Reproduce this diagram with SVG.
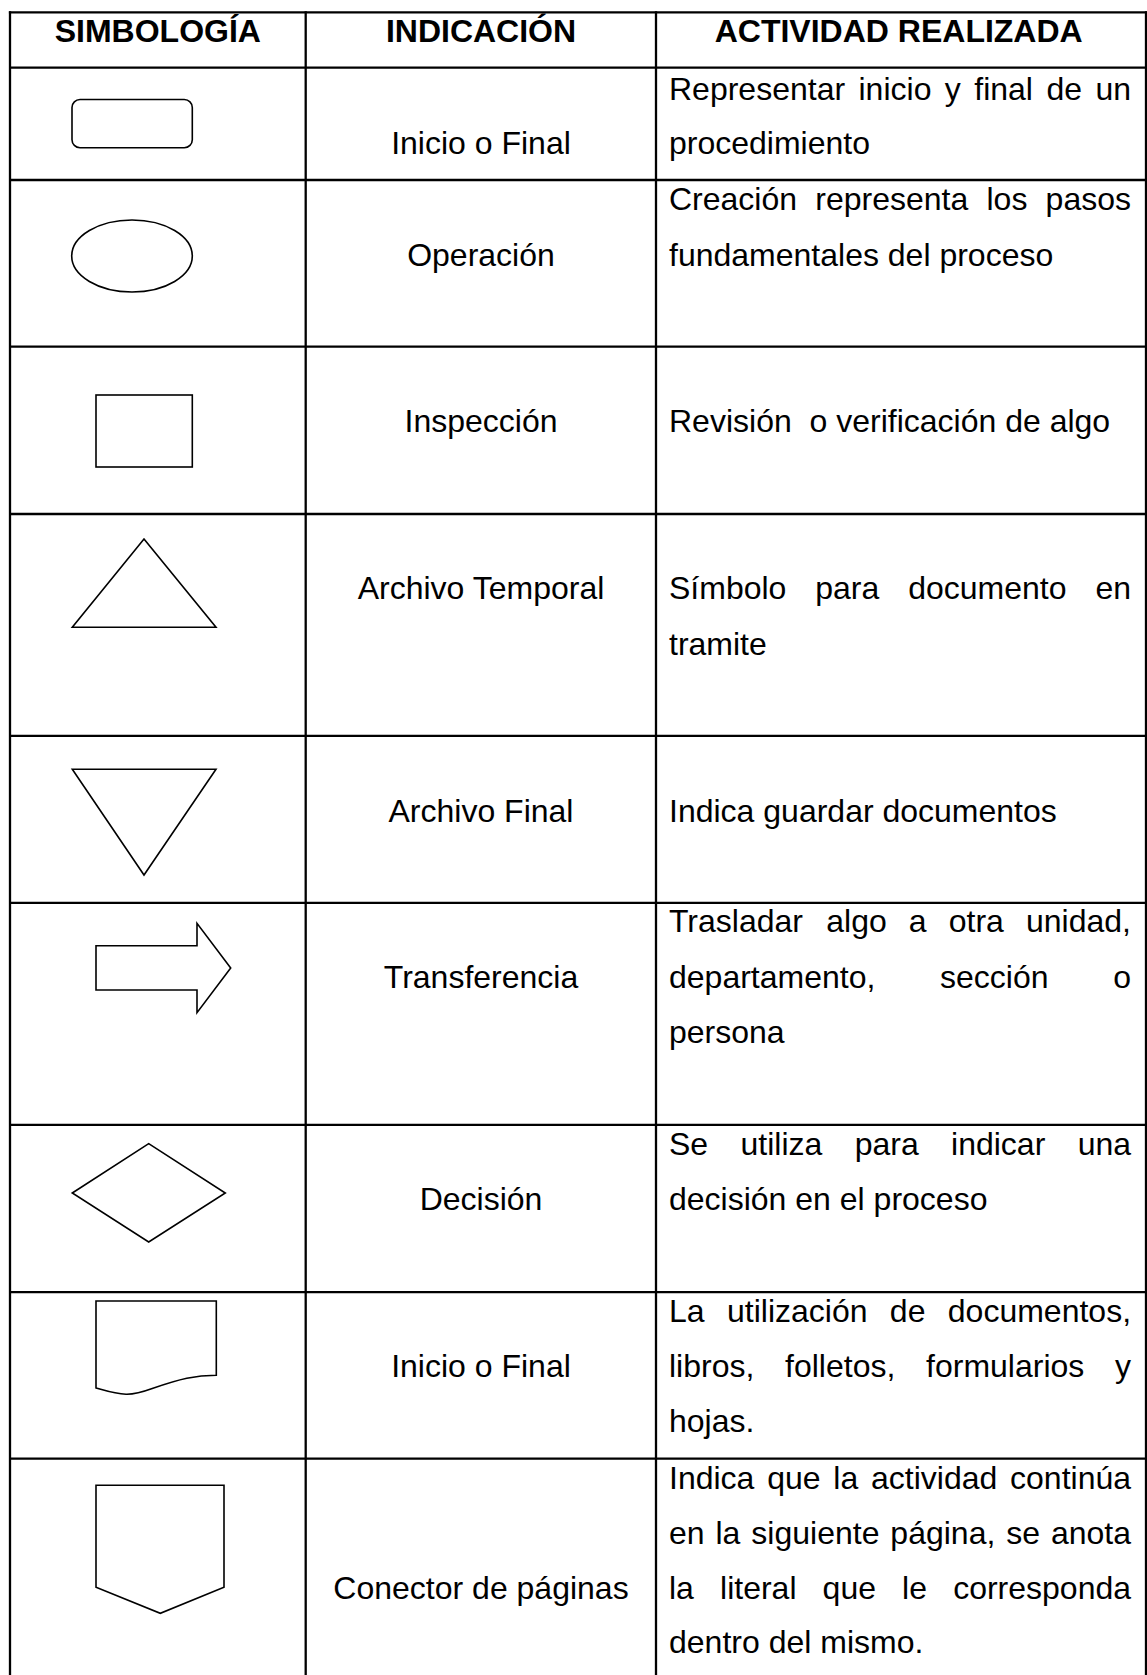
<svg xmlns="http://www.w3.org/2000/svg" width="1147" height="1675" viewBox="0 0 1147 1675">
<style>
text{font-family:"Liberation Sans",Arial,sans-serif;font-size:32px;fill:#000}
.h{font-weight:bold;text-anchor:middle}
.c{text-anchor:middle}
.grid line{stroke:#000;stroke-width:2.3}
.shape{fill:#fff;stroke:#000;stroke-width:1.6;stroke-linejoin:miter}
</style>
<rect width="1147" height="1675" fill="#fff"/>
<g id="grid" class="grid">
<line x1="8.9" y1="12.3" x2="1147" y2="12.3"/>
<line x1="10" y1="67.7" x2="1146" y2="67.7"/>
<line x1="10" y1="180" x2="1146" y2="180"/>
<line x1="10" y1="346.7" x2="1146" y2="346.7"/>
<line x1="10" y1="514" x2="1146" y2="514"/>
<line x1="10" y1="735.9" x2="1146" y2="735.9"/>
<line x1="10" y1="902.8" x2="1146" y2="902.8"/>
<line x1="10" y1="1124.9" x2="1146" y2="1124.9"/>
<line x1="10" y1="1292.2" x2="1146" y2="1292.2"/>
<line x1="10" y1="1458.7" x2="1146" y2="1458.7"/>
<line x1="10" y1="11.2" x2="10" y2="1675"/>
<line x1="305.7" y1="11.2" x2="305.7" y2="1675"/>
<line x1="656" y1="11.2" x2="656" y2="1675"/>
<line x1="1146" y1="11.2" x2="1146" y2="1675"/>
</g>
<g id="header">
<text class="h" x="157.8" y="42.3">SIMBOLOGÍA</text>
<text class="h" x="481" y="42.3">INDICACIÓN</text>
<text class="h" x="898.7" y="42.3">ACTIVIDAD REALIZADA</text>
</g>
<g id="row-inicio-final">
<rect class="shape" x="72" y="99.5" width="120.3" height="48.2" rx="8"/>
<text class="c" x="481" y="154">Inicio o Final</text>
<text y="99.5"><tspan x="669">Representar</tspan><tspan x="858.5">inicio</tspan><tspan x="944.84">y</tspan><tspan x="974.28">final</tspan><tspan x="1046.41">de</tspan><tspan x="1095.43">un</tspan></text>
<text x="669" y="154">procedimiento</text>
</g>
<g id="row-operacion">
<ellipse class="shape" cx="132" cy="256" rx="60.3" ry="36"/>
<text class="c" x="481" y="266">Operación</text>
<text y="209.5"><tspan x="669">Creación</tspan><tspan x="815.27">representa</tspan><tspan x="986.47">los</tspan><tspan x="1045.61">pasos</tspan></text>
<text x="669" y="266">fundamentales del proceso</text>
</g>
<g id="row-inspeccion">
<rect class="shape" x="96" y="395" width="96.3" height="72"/>
<text class="c" x="481" y="431.7">Inspección</text>
<text x="669" y="431.7" style="white-space:pre">Revisión  o verificación de algo</text>
</g>
<g id="row-archivo-temporal">
<polygon class="shape" points="144,539 216,627.3 72.3,627.3"/>
<text class="c" x="481" y="599">Archivo Temporal</text>
<text y="599"><tspan x="669">Símbolo</tspan><tspan x="815.28">para</tspan><tspan x="908.21">documento</tspan><tspan x="1095.41">en</tspan></text>
<text x="669" y="655.3">tramite</text>
</g>
<g id="row-archivo-final">
<polygon class="shape" points="72.3,769.3 216,769.3 144,875"/>
<text class="c" x="481" y="821.6">Archivo Final</text>
<text x="669" y="821.6">Indica guardar documentos</text>
</g>
<g id="row-transferencia">
<polygon class="shape" points="96,945.7 197,945.7 197,923.3 230.7,968 197,1012.7 197,990 96,990"/>
<text class="c" x="481" y="988">Transferencia</text>
<text y="931.7"><tspan x="669">Trasladar</tspan><tspan x="826.26">algo</tspan><tspan x="908.86">a</tspan><tspan x="948.77">otra</tspan><tspan x="1026.03">unidad,</tspan></text>
<text y="988"><tspan x="669">departamento,</tspan><tspan x="940.04">sección</tspan><tspan x="1113.22">o</tspan></text>
<text x="669" y="1043.3">persona</text>
</g>
<g id="row-decision">
<polygon class="shape" points="72.3,1193 148.7,1143.7 225.3,1193 148.7,1242"/>
<text class="c" x="481" y="1210">Decisión</text>
<text y="1155.3"><tspan x="669">Se</tspan><tspan x="740.5">utiliza</tspan><tspan x="854.65">para</tspan><tspan x="951.04">indicar</tspan><tspan x="1077.64">una</tspan></text>
<text x="669" y="1210">decisión en el proceso</text>
</g>
<g id="row-documento">
<path class="shape" d="M96,1301 H216.3 V1375.3 C195,1375.3 180,1379 153,1388.3 C140,1393 132,1394.5 126,1394.3 C115,1394 105,1390.5 96,1388 Z"/>
<text class="c" x="481" y="1377.3">Inicio o Final</text>
<text y="1322.3"><tspan x="669">La</tspan><tspan x="726.97">utilización</tspan><tspan x="889.84">de</tspan><tspan x="947.81">documentos,</tspan></text>
<text y="1377.3"><tspan x="669">libros,</tspan><tspan x="785.06">folletos,</tspan><tspan x="926.05">formularios</tspan><tspan x="1115.01">y</tspan></text>
<text x="669" y="1432.3">hojas.</text>
</g>
<g id="row-conector">
<polygon class="shape" points="96,1485.3 224,1485.3 224,1587.3 160.3,1613.3 96,1587.3"/>
<text class="c" x="481" y="1599">Conector de páginas</text>
<text y="1489"><tspan x="669">Indica</tspan><tspan x="767.16">que</tspan><tspan x="833.32">la</tspan><tspan x="871">actividad</tspan><tspan x="1010.05">continúa</tspan></text>
<text y="1544.3"><tspan x="669">en</tspan><tspan x="715.51">la</tspan><tspan x="751.34">siguiente</tspan><tspan x="890.33">página,</tspan><tspan x="1006.22">se</tspan><tspan x="1050.94">anota</tspan></text>
<text y="1599"><tspan x="669">la</tspan><tspan x="720.03">literal</tspan><tspan x="822.61">que</tspan><tspan x="902.12">le</tspan><tspan x="953.15">corresponda</tspan></text>
<text x="669" y="1653.3">dentro del mismo.</text>
</g>
</svg>
